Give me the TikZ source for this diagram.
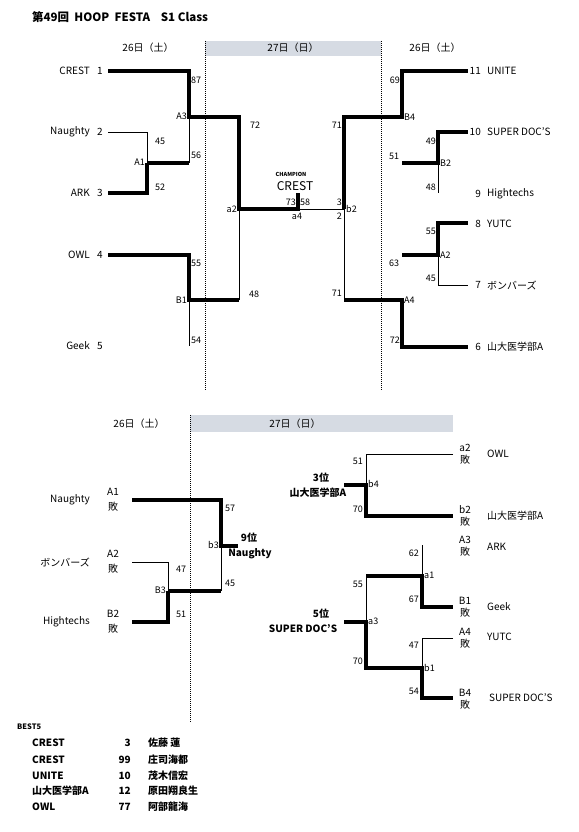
\documentclass[tikz,border=0pt]{standalone}
\usepackage{fontspec}
\setmainfont{Noto Sans CJK JP}
\definecolor{barc}{RGB}{214,219,227}
\begin{document}
\begin{tikzpicture}[x=1pt,y=-1pt,
  thk/.style={line width=3.2pt, line join=miter, line cap=butt},
  thn/.style={line width=0.9pt},
  dots/.style={line width=0.8pt, dash pattern=on 1pt off 1pt},
  sc/.style={font=\fontsize{9}{9}\selectfont, inner sep=0pt},
  nm/.style={font=\fontsize{10}{10}\selectfont, inner sep=0pt},
  bd/.style={font=\bfseries\fontsize{10}{10}\selectfont, inner sep=0pt}]
\useasboundingbox (0,0) rectangle (578,832);
\fill[white] (0,0) rectangle (578,832);
% bars and day separators
\fill[barc] (205,41) rectangle (381,56);
\fill[barc] (190,415) rectangle (453,432);
\draw[dots] (205,41) -- (205,390);
\draw[dots] (381,41) -- (381,390);
\draw[dots] (190,415) -- (190,722);
% title and headers
\node[inner sep=0pt, anchor=west, font=\bfseries\fontsize{11.5}{12}\selectfont] (title) at (32,17) {第49回\ \ HOOP\ \ FESTA\ \ \ \ S1\ Class};
\node[nm] (h1) at (148,48) {26日（土）};
\node[nm] (h2) at (293,48) {27日（日）};
\node[nm] (h3) at (435,48) {26日（土）};
\node[nm] (h4) at (139,424) {26日（土）};
\node[nm] (h5) at (295,424) {27日（日）};
% ---------- top-left bracket
\coordinate (t1) at (108,71);
\coordinate (t1e) at (189,71);
\coordinate (A3) at (189,117);
\coordinate (A3e) at (239,117);
\coordinate (t2) at (108,132);
\coordinate (t2e) at (147,132);
\coordinate (A1) at (147,163);
\coordinate (A1e) at (189,163);
\coordinate (t3) at (108,193);
\coordinate (t3e) at (147,193);
\coordinate (a2) at (239,209);
\coordinate (a4) at (298,209);
\coordinate (a4t) at (298,193);
\coordinate (b2) at (344,209);
\coordinate (t4) at (108,255);
\coordinate (t4e) at (189,255);
\coordinate (B1) at (189,300);
\coordinate (B1e) at (239,300);
\coordinate (t5e) at (189,346);
\draw[thn] (A3) -- (A1e);
\draw[thn] (t2) -- (t2e) -- (A1);
\draw[thn] (B1e) -- (a2);
\draw[thn] (B1) -- (t5e);
\draw[thn] (a4) -- (b2);
\draw[thk] (t1) -- (t1e) -- (A3) -- (A3e) -- (a2) -- (a4) -- (a4t);
\draw[thk] (A1) -- (A1e);
\draw[thk] (t3) -- (t3e) -- (A1);
\draw[thk] (t4) -- (t4e) -- (B1) -- (B1e);
% ---------- top-right bracket
\coordinate (b2t) at (344,117);
\coordinate (B4) at (402,117);
\coordinate (t11) at (402,71);
\coordinate (t11e) at (468,71);
\coordinate (B2l) at (402,163);
\coordinate (B2) at (438,163);
\coordinate (t10) at (438,132);
\coordinate (t10e) at (468,132);
\coordinate (t9) at (438,193);
\coordinate (A2l) at (402,255);
\coordinate (A2) at (438,255);
\coordinate (t8) at (438,223);
\coordinate (t8e) at (468,223);
\coordinate (t7) at (438,285);
\coordinate (t7e) at (468,285);
\coordinate (b2b) at (344,300);
\coordinate (A4) at (402,300);
\coordinate (t6) at (402,347);
\coordinate (t6e) at (468,347);
\draw[thn] (B2) -- (t9);
\draw[thn] (A2) -- (t7) -- (t7e);
\draw[thn] (b2) -- (b2b);
\draw[thk] (b2) -- (b2t) -- (B4) -- (t11) -- (t11e);
\draw[thk] (B2l) -- (B2) -- (t10) -- (t10e);
\draw[thk] (A2l) -- (A2) -- (t8) -- (t8e);
\draw[thk] (b2b) -- (A4) -- (t6) -- (t6e);
% ---------- top labels
\node[nm, anchor=east] (n1) at (90,71) {CREST};
\node[nm, anchor=east] (n2) at (90,132) {Naughty};
\node[nm, anchor=east] (n3) at (90,193) {ARK};
\node[nm, anchor=east] (n4) at (90,255) {OWL};
\node[nm, anchor=east] (n5) at (90,346) {Geek};
\node[nm] (k1) at (100,71) {1};
\node[nm] (k2) at (100,132) {2};
\node[nm] (k3) at (100,193) {3};
\node[nm] (k4) at (100,255) {4};
\node[nm] (k5) at (100,346) {5};
\node[nm, anchor=east] (k11) at (481,71) {11};
\node[nm, anchor=east] (k10) at (481,132) {10};
\node[nm, anchor=east] (k9) at (481,194) {9};
\node[nm, anchor=east] (k8) at (481,224) {8};
\node[nm, anchor=east] (k7) at (481,285) {7};
\node[nm, anchor=east] (k6) at (481,347) {6};
\node[nm, anchor=west] (n11) at (487,71) {UNITE};
\node[nm, anchor=west] (n10) at (487,132) {SUPER DOC'S};
\node[nm, anchor=west] (n9) at (487,194) {Hightechs};
\node[nm, anchor=west] (n8) at (487,224) {YUTC};
\node[nm, anchor=west] (n7) at (487,285) {ボンバーズ};
\node[nm, anchor=west] (n6) at (487,347) {山大医学部A};
% scores top-left
\node[sc, anchor=west] (s1) at (191,80) {87};
\node[sc, anchor=east] (g1) at (187,116) {A3};
\node[sc] (s2) at (255,125) {72};
\node[sc] (s3) at (160,141) {45};
\node[sc, anchor=west] (s4) at (191,155) {56};
\node[sc, anchor=east] (g2) at (145,162) {A1};
\node[sc] (s5) at (160,187) {52};
\node[sc, anchor=east] (g3) at (237,209) {a2};
\node[sc, anchor=west] (s6) at (191,263) {55};
\node[sc, anchor=east] (g4) at (187,300) {B1};
\node[sc] (s7) at (254,294) {48};
\node[sc, anchor=west] (s8) at (191,340) {54};
% champion
\node[inner sep=0pt, font=\bfseries\fontsize{5.5}{6}\selectfont] (ch) at (291,174) {CHAMPION};
\node[inner sep=0pt, font=\fontsize{12}{12}\selectfont] (chn) at (295,186) {CREST};
\node[sc, anchor=east] (s9) at (296,202) {73};
\node[sc, anchor=west] (s10) at (300,202) {58};
\node[sc] (g5) at (297,216) {a4};
\node[sc, anchor=east] (s11) at (342,202) {3};
\node[sc, anchor=east] (s12) at (342,216) {2};
\node[sc, anchor=west] (g6) at (346,209) {b2};
% scores top-right
\node[sc, anchor=east] (s13) at (400,80) {69};
\node[sc, anchor=west] (g7) at (404,117) {B4};
\node[sc, anchor=east] (s14) at (342,125) {71};
\node[sc, anchor=east] (s15) at (436,141) {49};
\node[sc, anchor=west] (g8) at (440,163) {B2};
\node[sc] (s16) at (394,156) {51};
\node[sc, anchor=east] (s17) at (436,187) {48};
\node[sc, anchor=east] (s18) at (436,231) {55};
\node[sc, anchor=west] (g9) at (440,255) {A2};
\node[sc] (s19) at (394,263) {63};
\node[sc, anchor=east] (s20) at (436,278) {45};
\node[sc, anchor=east] (s21) at (342,293) {71};
\node[sc, anchor=west] (g10) at (404,300) {A4};
\node[sc, anchor=east] (s22) at (400,340) {72};
% ---------- bottom-left bracket
\coordinate (l1) at (132,500);
\coordinate (b3t) at (221,500);
\coordinate (b3) at (221,546);
\coordinate (b3e) at (238,546);
\coordinate (l2) at (132,562);
\coordinate (l2e) at (168,562);
\coordinate (B3) at (168,591);
\coordinate (B3e) at (221,591);
\coordinate (l3) at (132,622);
\coordinate (l3e) at (168,622);
\draw[thn] (b3) -- (B3e);
\draw[thn] (l2) -- (l2e) -- (B3);
\draw[thk] (l1) -- (b3t) -- (b3) -- (b3e);
\draw[thk] (B3) -- (B3e);
\draw[thk] (l3) -- (l3e) -- (B3);
\node[nm, anchor=east] (m1) at (90,500) {Naughty};
\node[nm, anchor=east] (m2) at (90,562) {ボンバーズ};
\node[nm, anchor=east] (m3) at (90,622) {Hightechs};
\node[nm] (q1) at (113,492) {A1};
\node[nm] (q1b) at (113,507) {敗};
\node[nm] (q2) at (113,554) {A2};
\node[nm] (q2b) at (113,569) {敗};
\node[nm] (q3) at (113,614) {B2};
\node[nm] (q3b) at (113,629) {敗};
\node[sc, anchor=west] (u1) at (225,508) {57};
\node[sc, anchor=east] (u2) at (219,545) {b3};
\node[bd] (u3) at (249,538) {9位};
\node[bd] (u4) at (250,554) {Naughty};
\node[sc] (u5) at (181,569) {47};
\node[sc, anchor=east] (u6) at (166,590) {B3};
\node[sc, anchor=west] (u7) at (225,583) {45};
\node[sc] (u8) at (181,614) {51};
% ---------- bottom-right bracket
\coordinate (r1) at (453,454);
\coordinate (r1c) at (366,454);
\coordinate (b4) at (366,485);
\coordinate (b4l) at (344,485);
\coordinate (r2c) at (366,516);
\coordinate (r2) at (453,516);
\coordinate (r3c) at (422,545);
\coordinate (a1) at (422,576);
\coordinate (a3t) at (366,576);
\coordinate (r4c) at (422,607);
\coordinate (r4) at (453,607);
\coordinate (a3) at (366,622);
\coordinate (a3l) at (344,622);
\coordinate (b1l) at (366,668);
\coordinate (b1) at (422,668);
\coordinate (r5) at (453,638);
\coordinate (r5c) at (422,638);
\coordinate (r6c) at (422,698);
\coordinate (r6) at (453,698);
\draw[thn] (r1) -- (r1c) -- (b4);
\draw[thn] (r3c) -- (a1);
\draw[thn] (a3t) -- (a3);
\draw[thn] (r5) -- (r5c) -- (b1);
\draw[thk] (b4l) -- (b4) -- (r2c) -- (r2);
\draw[thk] (a3t) -- (a1) -- (r4c) -- (r4);
\draw[thk] (a3l) -- (a3) -- (b1l) -- (b1) -- (r6c) -- (r6);
\node[sc, anchor=east] (v1) at (363,461) {51};
\node[sc, anchor=west] (v2) at (368,484) {b4};
\node[sc, anchor=east] (v3) at (363,509) {70};
\node[bd] (v4) at (321,478) {3位};
\node[bd] (v5) at (318,493) {山大医学部A};
\node[sc, anchor=east] (v6) at (419,553) {62};
\node[sc, anchor=west] (v7) at (424,575) {a1};
\node[sc, anchor=east] (v8) at (363,584) {55};
\node[sc, anchor=east] (v9) at (419,599) {67};
\node[sc, anchor=west] (v10) at (368,621) {a3};
\node[bd] (v11) at (321,614) {5位};
\node[bd] (v12) at (303,629) {SUPER DOC'S};
\node[sc, anchor=east] (v13) at (419,645) {47};
\node[sc, anchor=east] (v14) at (363,661) {70};
\node[sc, anchor=west] (v15) at (424,668) {b1};
\node[sc, anchor=east] (v16) at (419,691) {54};
% right-hand loser labels
\node[nm] (p1) at (465,448) {a2};
\node[nm] (p1b) at (465,460) {敗};
\node[nm, anchor=west] (w1) at (487,454) {OWL};
\node[nm] (p2) at (465,510) {b2};
\node[nm] (p2b) at (465,522) {敗};
\node[nm, anchor=west] (w2) at (487,516) {山大医学部A};
\node[nm] (p3) at (465,540) {A3};
\node[nm] (p3b) at (465,552) {敗};
\node[nm, anchor=west] (w3) at (487,547) {ARK};
\node[nm] (p4) at (465,601) {B1};
\node[nm] (p4b) at (465,613) {敗};
\node[nm, anchor=west] (w4) at (487,607) {Geek};
\node[nm] (p5) at (465,632) {A4};
\node[nm] (p5b) at (465,644) {敗};
\node[nm, anchor=west] (w5) at (487,637) {YUTC};
\node[nm] (p6) at (465,693) {B4};
\node[nm] (p6b) at (465,705) {敗};
\node[nm, anchor=west] (w6) at (489,698) {SUPER DOC'S};
% ---------- BEST5
\node[inner sep=0pt, anchor=west, font=\bfseries\fontsize{7.5}{8}\selectfont] (best) at (17,727) {BEST5};
\node[bd, anchor=west] (x1) at (32,743) {CREST};
\node[bd, anchor=west] (x2) at (32,760) {CREST};
\node[bd, anchor=west] (x3) at (32,776) {UNITE};
\node[bd, anchor=west] (x4) at (32,791) {山大医学部A};
\node[bd, anchor=west] (x5) at (32,807) {OWL};
\node[bd, anchor=east] (y1) at (131,743) {3};
\node[bd, anchor=east] (y2) at (131,760) {99};
\node[bd, anchor=east] (y3) at (131,776) {10};
\node[bd, anchor=east] (y4) at (131,791) {12};
\node[bd, anchor=east] (y5) at (131,807) {77};
\node[bd, anchor=west] (z1) at (148,743) {佐藤\ 蓮};
\node[bd, anchor=west] (z2) at (148,760) {庄司海都};
\node[bd, anchor=west] (z3) at (148,776) {茂木信宏};
\node[bd, anchor=west] (z4) at (148,791) {原田翔良生};
\node[bd, anchor=west] (z5) at (148,807) {阿部龍海};
\end{tikzpicture}
\end{document}
